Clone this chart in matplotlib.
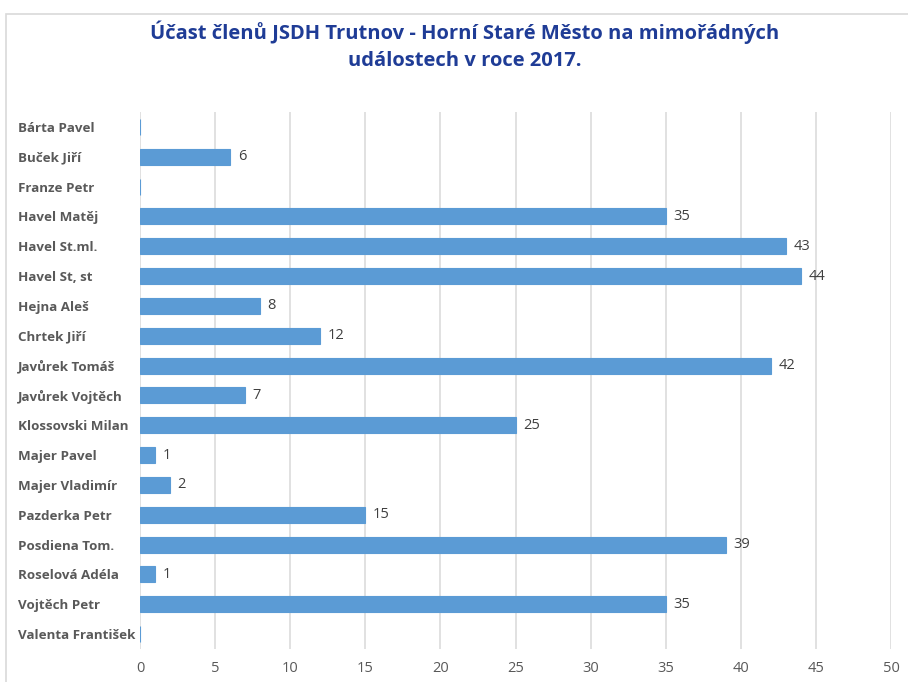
import matplotlib
matplotlib.use("Agg")
import matplotlib.pyplot as plt
from matplotlib.patches import Rectangle

names = ["Bárta Pavel", "Buček Jiří", "Franze Petr", "Havel Matěj", "Havel St.ml.",
         "Havel St, st", "Hejna Aleš", "Chrtek Jiří", "Javůrek Tomáš", "Javůrek Vojtěch",
         "Klossovski Milan", "Majer Pavel", "Majer Vladimír", "Pazderka Petr",
         "Posdiena Tom.", "Roselová Adéla", "Vojtěch Petr", "Valenta František"]
values = [0, 6, 0, 35, 43, 44, 8, 12, 42, 7, 25, 1, 2, 15, 39, 1, 35, 0]
x_ticks = [0, 5, 10, 15, 20, 25, 30, 35, 40, 45, 50]
title = "Účast členů JSDH Trutnov - Horní Staré Město na mimořádných\nudálostech v roce 2017."

plt.rcParams['font.family'] = ['Open Sans', 'DejaVu Sans']

W, H = 908, 682
fig = plt.figure(figsize=(W / 100, H / 100), dpi=100)

# chart frame
fig.patches.append(Rectangle((6 / W, -0.01), 1.02, (H - 14) / H + 0.01, transform=fig.transFigure,
                             fill=False, edgecolor='#D9D9D9', linewidth=1.2))

ax = fig.add_axes([140 / W, 1 - 649 / H, (891 - 140) / W, (649 - 112) / H])
pos = list(range(len(names)))
ax.barh(pos, values, height=0.54, color='#5B9BD5', edgecolor='#5B9BD5', linewidth=0.8, zorder=3)
ax.set_ylim(len(names) - 0.5, -0.5)
ax.set_xlim(0, 50)
ax.set_xticks(x_ticks)
ax.set_xticklabels([str(t) for t in x_ticks], fontsize=10.5, color='#595959')
ax.set_yticks(pos)
ax.set_yticklabels(names, fontsize=9.6, fontweight='bold', color='#595959', ha='left')
ax.tick_params(axis='both', length=0)
ax.tick_params(axis='x', pad=9)
ax.tick_params(axis='y', pad=(140 - 18) * 0.72)
ax.grid(axis='x', color='#D9D9D9', linewidth=1.1, zorder=0)
for s in ax.spines.values():
    s.set_visible(False)

for p, v in zip(pos, values):
    if v > 0:
        ax.text(v + 0.5, p, str(v), va='center', ha='left', fontsize=10.5, color='#404040')

lines = title.split("\n")
fig.text(465 / W, 1 - 32 / H, lines[0], ha='center', va='center',
         fontsize=14.5, fontweight='bold', color='#1F3C96')
fig.text(465 / W, 1 - 61 / H, lines[1], ha='center', va='center',
         fontsize=14.5, fontweight='bold', color='#1F3C96')

fig.savefig("out.png", dpi=100)
